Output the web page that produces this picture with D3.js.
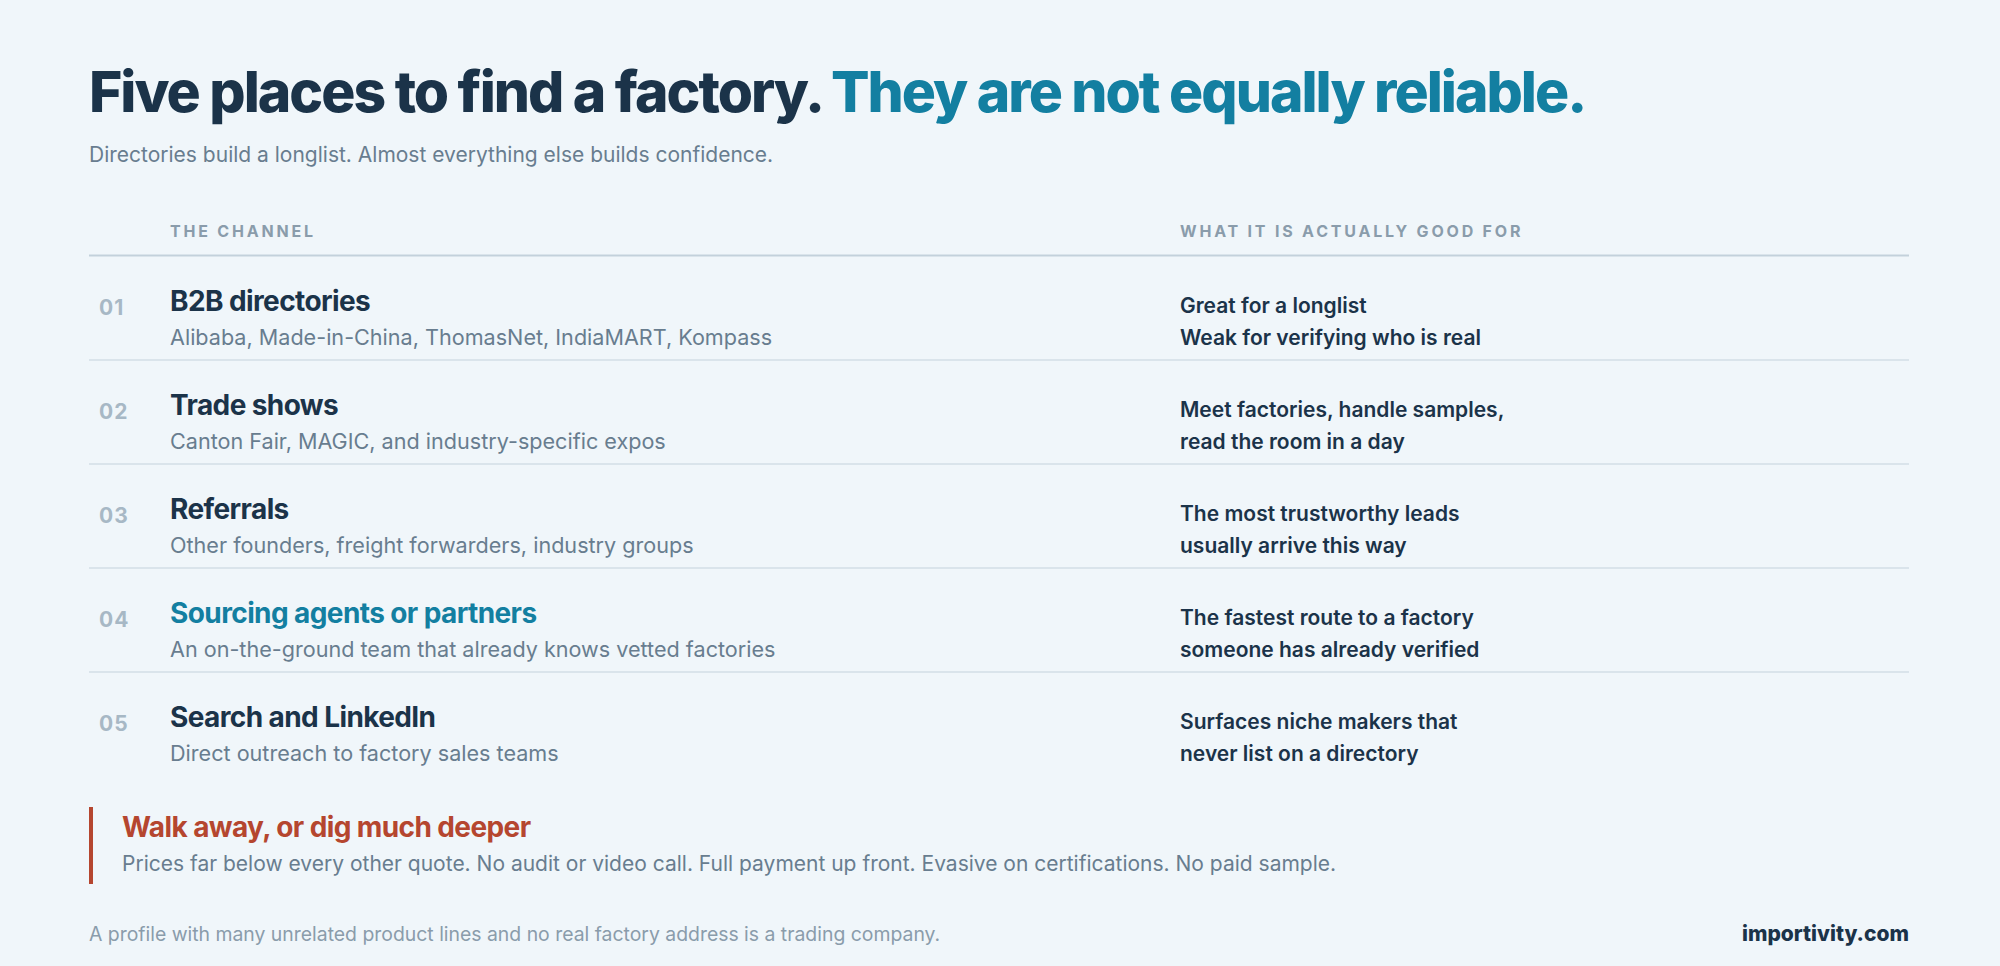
<!DOCTYPE html>
<html><head><meta charset="utf-8">
<script src="https://cdn.jsdelivr.net/npm/d3@7"></script>
<style>body{margin:0;background:#f0f6fa;}svg{display:block;font-family:Inter,"Noto Sans",sans-serif;}</style>
</head><body><svg id="c" width="2000" height="966"></svg>
<script>
const nums=["01","02","03","04","05"];
const names=["B2B directories","Trade shows","Referrals","Sourcing agents or partners","Search and LinkedIn"];
const subs=["Alibaba, Made-in-China, ThomasNet, IndiaMART, Kompass","Canton Fair, MAGIC, and industry-specific expos","Other founders, freight forwarders, industry groups","An on-the-ground team that already knows vetted factories","Direct outreach to factory sales teams"];
const goodFor=[["Great for a longlist","Weak for verifying who is real"],["Meet factories, handle samples,","read the room in a day"],["The most trustworthy leads","usually arrive this way"],["The fastest route to a factory","someone has already verified"],["Surfaces niche makers that","never list on a directory"]];
const highlight=[false,false,false,true,false];

const dark="#1b3349",teal="#137fa1",gray="#687d8f",light="#a7b8c5",red="#b5462f";
const svg=d3.select("#c");
svg.append("rect").attr("width",2000).attr("height",966).attr("fill","#f0f6fa");
const L=89,R=1909,c1=170,c2=1180;
const t=svg.append("text").attr("x",L).attr("y",112).attr("font-size",57).attr("font-weight",800).attr("letter-spacing",-2);
t.append("tspan").attr("fill",dark).text("Five places to find a factory. ");
t.append("tspan").attr("fill",teal).text("They are not equally reliable.");
svg.append("text").attr("x",L).attr("y",162).attr("font-size",21).attr("fill",gray).text("Directories build a longlist. Almost everything else builds confidence.");
svg.append("text").attr("x",c1).attr("y",237).attr("font-size",16).attr("font-weight",700).attr("letter-spacing",2.8).attr("fill","#8a9cab").text("THE CHANNEL");
svg.append("text").attr("x",c2).attr("y",237).attr("font-size",16).attr("font-weight",700).attr("letter-spacing",2.8).attr("fill","#8a9cab").text("WHAT IT IS ACTUALLY GOOD FOR");
svg.append("line").attr("x1",L).attr("x2",R).attr("y1",255.5).attr("y2",255.5).attr("stroke","#c3d1db").attr("stroke-width",2);
const y=d3.scaleBand().domain(d3.range(nums.length)).range([256,776]);
const g=svg.selectAll("g.row").data(d3.range(nums.length)).join("g").attr("transform",i=>`translate(0,${y(i)})`);
g.append("text").attr("x",L+10).attr("y",59).attr("font-size",21).attr("font-weight",700).attr("fill",light).attr("letter-spacing",1).text(i=>nums[i]);
g.append("text").attr("x",c1).attr("y",55).attr("font-size",28).attr("font-weight",700).attr("letter-spacing",-0.6).attr("fill",i=>highlight[i]?teal:dark).text(i=>names[i]);
g.append("text").attr("x",c1).attr("y",89).attr("font-size",21.6).attr("fill",gray).text(i=>subs[i]);
g.append("text").attr("x",c2).attr("y",57).attr("font-size",21).attr("font-weight",600).attr("fill",dark).text(i=>goodFor[i][0]);
g.append("text").attr("x",c2).attr("y",89).attr("font-size",21).attr("font-weight",600).attr("fill",dark).text(i=>goodFor[i][1]);
g.filter(i=>i<nums.length-1).append("line").attr("x1",L).attr("x2",R).attr("y1",y.bandwidth()).attr("y2",y.bandwidth()).attr("stroke","#d3dee6").attr("stroke-width",1.5);
svg.append("rect").attr("x",89).attr("y",807).attr("width",4).attr("height",77).attr("fill",red);
svg.append("text").attr("x",122).attr("y",837).attr("font-size",28).attr("font-weight",700).attr("letter-spacing",-0.6).attr("fill",red).text("Walk away, or dig much deeper");
svg.append("text").attr("x",122).attr("y",871).attr("font-size",21).attr("fill",gray).text("Prices far below every other quote. No audit or video call. Full payment up front. Evasive on certifications. No paid sample.");
svg.append("text").attr("x",L).attr("y",941).attr("font-size",19.4).attr("fill","#8a9cab").text("A profile with many unrelated product lines and no real factory address is a trading company.");
svg.append("text").attr("x",R).attr("y",941).attr("text-anchor","end").attr("font-size",21).attr("font-weight",800).attr("fill",dark).text("importivity.com");
</script></body></html>
